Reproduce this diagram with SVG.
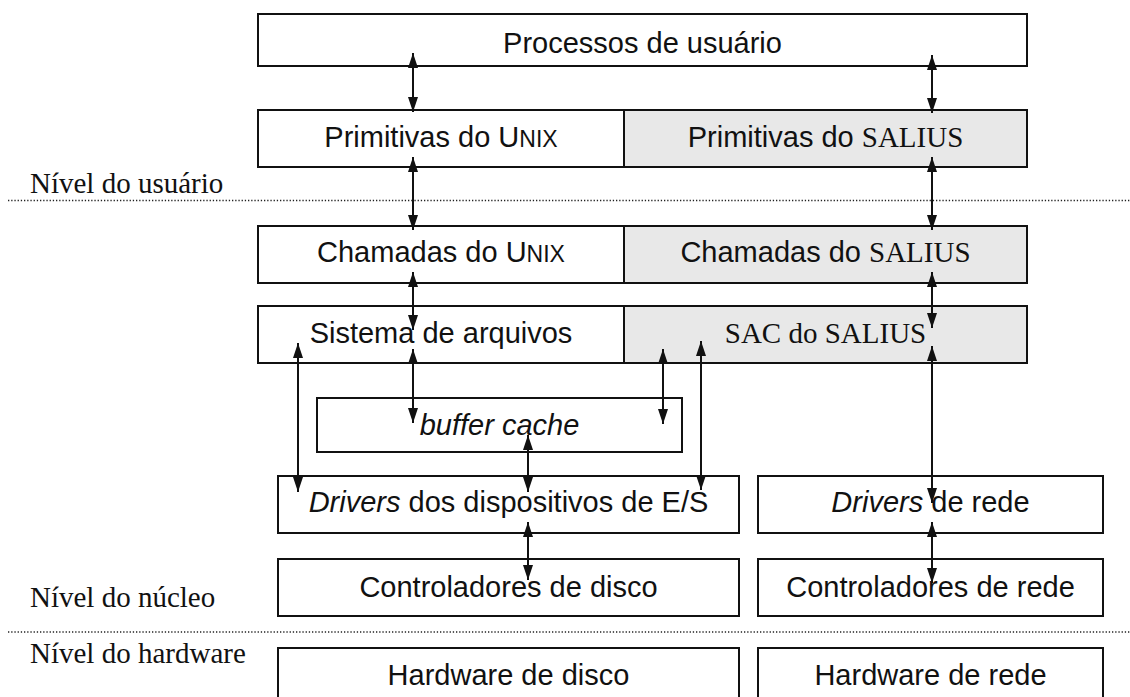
<svg xmlns="http://www.w3.org/2000/svg" width="1130" height="697" viewBox="0 0 1130 697">
<style>
.box{fill:#ffffff;stroke:#111;stroke-width:2}
.gbox{fill:#e8e8e8;stroke:#111;stroke-width:2}
.t{font-family:"Liberation Sans",Arial,sans-serif;font-size:29px;fill:#111;text-anchor:middle}
.s{font-family:"Liberation Serif","Times New Roman",serif}
.i{font-style:italic}
.sc{font-size:23px}
.lvl{font-family:"Liberation Serif","Times New Roman",serif;font-size:29px;fill:#111}
.dot{stroke:#222;stroke-width:1.3;stroke-dasharray:1.3 1.9}
.c{stroke:#111;stroke-width:2;fill:none;marker-start:url(#ah);marker-end:url(#ah)}
</style>
<defs>
<marker id="ah" markerUnits="userSpaceOnUse" markerWidth="15" markerHeight="10" viewBox="0 0 15 10" refX="15" refY="5" orient="auto-start-reverse">
<path d="M0,0 L15,5 L0,10 z" fill="#111"/>
</marker>
</defs>
<rect width="1130" height="697" fill="#ffffff"/>

<g id="levels">
<text class="lvl" x="30" y="193">Nível do usuário</text>
<line class="dot" x1="8" y1="200.5" x2="1130" y2="200.5"/>
<text class="lvl" x="30" y="607">Nível do núcleo</text>
<line class="dot" x1="8" y1="632" x2="1130" y2="632"/>
<text class="lvl" x="30" y="663">Nível do hardware</text>
</g>

<g id="processos">
<rect class="box" x="258" y="14" width="769" height="52"/>
<text class="t" x="642.5" y="53">Processos de usuário</text>
</g>

<g id="prim-unix">
<rect class="box" x="258" y="110" width="366" height="57"/>
<text class="t" x="441" y="147">Primitivas do U<tspan class="sc">NIX</tspan></text>
</g>
<g id="prim-salius">
<rect class="gbox" x="624" y="110" width="403" height="57"/>
<text class="t" x="825.5" y="147">Primitivas do <tspan class="s">SALIUS</tspan></text>
</g>

<g id="cham-unix">
<rect class="box" x="258" y="226" width="366" height="57"/>
<text class="t" x="441" y="262">Chamadas do U<tspan class="sc">NIX</tspan></text>
</g>
<g id="cham-salius">
<rect class="gbox" x="624" y="226" width="403" height="57"/>
<text class="t" x="825.5" y="262">Chamadas do <tspan class="s">SALIUS</tspan></text>
</g>

<g id="sist-arq">
<rect class="box" x="258" y="306" width="366" height="57"/>
<text class="t" x="441" y="343">Sistema de arquivos</text>
</g>
<g id="sac-salius">
<rect class="gbox" x="624" y="306" width="403" height="57"/>
<text class="t s" x="825.5" y="343">SAC do SALIUS</text>
</g>

<g id="buffer">
<rect class="box" x="317" y="398" width="365" height="54"/>
<text class="t i" x="499.5" y="435">buffer cache</text>
</g>

<g id="drivers-es">
<rect class="box" x="278" y="476" width="461" height="57"/>
<text class="t" x="508.5" y="512"><tspan class="i">Drivers</tspan> dos dispositivos de E/S</text>
</g>
<g id="drivers-rede">
<rect class="box" x="758" y="476" width="345" height="57"/>
<text class="t" x="930.5" y="512"><tspan class="i">Drivers</tspan> de rede</text>
</g>

<g id="ctrl-disco">
<rect class="box" x="278" y="559" width="461" height="57"/>
<text class="t" x="508.5" y="597">Controladores de disco</text>
</g>
<g id="ctrl-rede">
<rect class="box" x="758" y="559" width="345" height="57"/>
<text class="t" x="930.5" y="597">Controladores de rede</text>
</g>

<g id="hw-disco">
<rect class="box" x="278" y="648" width="461" height="70"/>
<text class="t" x="508.5" y="685">Hardware de disco</text>
</g>
<g id="hw-rede">
<rect class="box" x="758" y="648" width="345" height="70"/>
<text class="t" x="930.5" y="685">Hardware de rede</text>
</g>

<g id="connectors">
<line class="c" x1="413" y1="53" x2="413" y2="112"/>
<line class="c" x1="932" y1="55" x2="932" y2="113"/>
<line class="c" x1="413" y1="157" x2="413" y2="230"/>
<line class="c" x1="932" y1="157" x2="932" y2="230"/>
<line class="c" x1="413" y1="272" x2="413" y2="330"/>
<line class="c" x1="932" y1="272" x2="932" y2="328"/>
<line class="c" x1="413" y1="349" x2="413" y2="423"/>
<line class="c" x1="298" y1="343" x2="298" y2="492"/>
<line class="c" x1="663" y1="349" x2="663" y2="424"/>
<line class="c" x1="701" y1="341" x2="701" y2="490"/>
<line class="c" x1="528" y1="435" x2="528" y2="492"/>
<line class="c" x1="932" y1="346" x2="932" y2="503"/>
<line class="c" x1="528" y1="522" x2="528" y2="580"/>
<line class="c" x1="932" y1="522" x2="932" y2="583"/>
</g>
</svg>
